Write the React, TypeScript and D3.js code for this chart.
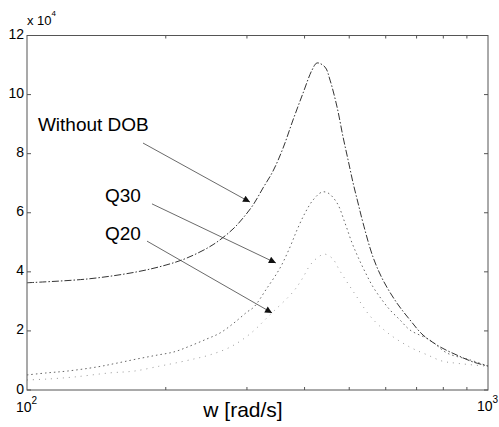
import React from 'react';
import * as d3 from 'd3';

// frequency [rad/s] and magnitude (x 10^4)
const wNoDob = [100, 135.6, 173.2, 201.2, 222.4, 253.3, 279.8, 294.1, 309.2, 325.1, 341.7, 359.3, 377.6, 397.0, 415.2, 425.7, 443.1, 454.3, 470.5, 484.9, 497.1, 509.7, 522.5, 535.8, 563.1, 591.9, 634.7, 677.4, 722.9, 787.0, 856.6, 928.0, 1000];
const vNoDob = [3.63, 3.76, 4.0, 4.24, 4.47, 4.92, 5.45, 5.82, 6.26, 6.84, 7.41, 8.19, 9.14, 10.05, 10.83, 11.07, 10.93, 10.49, 9.58, 8.56, 7.79, 7.01, 6.33, 5.65, 4.5, 3.72, 2.94, 2.37, 1.86, 1.46, 1.18, 0.95, 0.81];

const wQ30 = [100, 110.5, 122.1, 141.9, 156.7, 173.2, 191.4, 208.4, 225.8, 245.7, 262.3, 281.2, 300.1, 310.7, 330, 353.9, 372.0, 385.3, 400.9, 417.3, 436.4, 449.7, 470.5, 489.6, 507.0, 522.5, 541.1, 563.1, 588.9, 612.9, 644.4, 677.4, 748.5, 815.2, 914.1, 1000];
const vQ30 = [0.51, 0.58, 0.64, 0.78, 0.91, 1.05, 1.18, 1.29, 1.49, 1.73, 1.93, 2.27, 2.64, 2.81, 3.4, 4.13, 4.84, 5.42, 5.99, 6.43, 6.7, 6.67, 6.33, 5.65, 4.98, 4.5, 4.0, 3.49, 3.05, 2.71, 2.37, 2.03, 1.69, 1.25, 1.02, 0.81];

const wQ20 = [100, 110.5, 126.5, 151.4, 170.7, 194.2, 209.3, 230.1, 248.3, 275.7, 304.7, 336.8, 377.6, 395.2, 411.4, 428.4, 441.8, 459.9, 477.3, 515.9, 555.1, 606.3, 677.4, 740.6, 794.8, 862.0, 1000];
const vQ20 = [0.34, 0.37, 0.44, 0.58, 0.64, 0.81, 0.91, 1.05, 1.18, 1.45, 1.9, 2.55, 3.32, 3.76, 4.23, 4.5, 4.6, 4.45, 4.03, 3.22, 2.5, 1.93, 1.45, 1.18, 0.98, 0.9, 0.8];

const yTicks = [0, 2, 4, 6, 8, 10, 12];
const xMinorTicks = [200, 300, 400, 500, 600, 700, 800, 900];

// annotations: label, text start point and arrow (data coords)
const labels = ['Without DOB', 'Q30', 'Q20'];
const labelW = [105.6, 147.6, 147.6];
const labelV = [8.77, 6.36, 5.08];
const arrowFromW = [178.5, 186.7, 182.1];
const arrowFromV = [8.36, 6.3, 5.04];
const arrowToW = [304.6, 346.7, 340.1];
const arrowToV = [6.36, 4.3, 2.61];

const W = 499;
const H = 427;
const left = 27, right = 488, top = 35.5, bottom = 390;

export default function App() {
  const x = d3.scaleLog().domain([100, 1000]).range([left, right]);
  const y = d3.scaleLinear().domain([0, 12]).range([bottom, top]);

  const mk = (ws: number[], vs: number[]) =>
    d3.line<number>()
      .x((_, i) => x(ws[i]))
      .y((v) => y(v))
      .curve(d3.curveCatmullRom)(vs) || '';

  const axisColor = '#555';
  const font = '"Liberation Sans", Arial, sans-serif';

  return (
    <svg width={W} height={H} style={{ position: 'absolute', left: 0, top: 0, background: '#fff' }}>
      <defs>
        <marker id="ah" viewBox="0 0 10 10" refX="10" refY="5" markerWidth="11" markerHeight="7" markerUnits="userSpaceOnUse" orient="auto">
          <path d="M0,0 L10,5 L0,10 z" fill="#111" />
        </marker>
      </defs>

      {/* curves */}
      <path d={mk(wQ20, vQ20)} fill="none" stroke="#999" strokeWidth={1} strokeDasharray="1,5" />
      <path d={mk(wQ30, vQ30)} fill="none" stroke="#666" strokeWidth={1} strokeDasharray="1.5,3" />
      <path d={mk(wNoDob, vNoDob)} fill="none" stroke="#333" strokeWidth={1} strokeDasharray="7,2,1.5,2" />

      {/* frame */}
      <rect x={left} y={top} width={right - left} height={bottom - top} fill="none" stroke={axisColor} strokeWidth={1} />

      {/* y ticks */}
      {yTicks.map((t) => (
        <g key={'y' + t}>
          <line x1={left} x2={left + 4} y1={y(t)} y2={y(t)} stroke={axisColor} />
          <line x1={right - 4} x2={right} y1={y(t)} y2={y(t)} stroke={axisColor} />
          <text x={left - 3} y={y(t) + 3.5} textAnchor="end" fontFamily={font} fontSize={14} fill="#000">{t}</text>
        </g>
      ))}

      {/* x ticks */}
      {xMinorTicks.map((t) => (
        <g key={'x' + t}>
          <line x1={x(t)} x2={x(t)} y1={bottom} y2={bottom - 3} stroke={axisColor} />
          <line x1={x(t)} x2={x(t)} y1={top} y2={top + 3} stroke={axisColor} />
        </g>
      ))}

      <text x={x(100) - 11} y={412} fontFamily={font} fontSize={14} fill="#000">10<tspan dy={-8} fontSize={10}>2</tspan></text>
      <text x={x(1000) - 11} y={411} fontFamily={font} fontSize={14} fill="#000">10<tspan dy={-8} fontSize={10}>3</tspan></text>

      {/* exponent */}
      <text x={27} y={25} fontFamily={font} fontSize={13} fill="#000">x 10<tspan dy={-9} fontSize={8}>4</tspan></text>

      {/* x label */}
      <text x={243} y={417} textAnchor="middle" fontFamily={font} fontSize={21} fill="#000">w [rad/s]</text>

      {/* annotations */}
      {labels.map((l, i) => (
        <g key={l}>
          <text x={x(labelW[i])} y={y(labelV[i])} fontFamily={font} fontSize={19} fill="#000">{l}</text>
          <line x1={x(arrowFromW[i])} y1={y(arrowFromV[i])} x2={x(arrowToW[i])} y2={y(arrowToV[i])} stroke="#444" strokeWidth={0.8} markerEnd="url(#ah)" />
        </g>
      ))}
    </svg>
  );
}
